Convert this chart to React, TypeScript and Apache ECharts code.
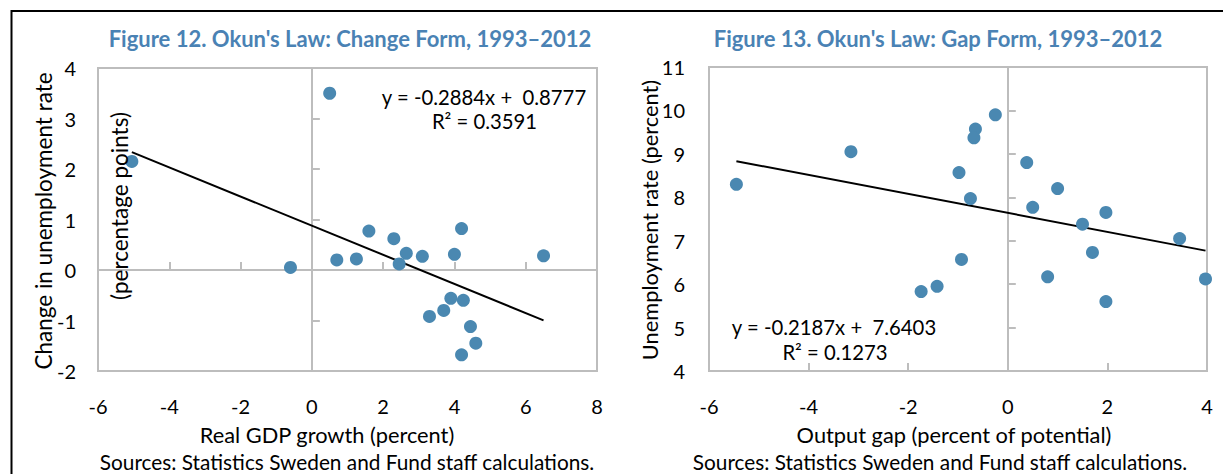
import React, { useEffect, useRef } from "react";
import * as echarts from "echarts";

// Figure 12: change form
const gdpGrowth = [0.5, -5.05, 1.6, 2.3, 4.2, -0.6, 0.7, 1.25, 2.45, 2.65, 3.1, 4.0, 6.5, 3.9, 4.25, 3.3, 3.7, 4.45, 4.6, 4.2];
const unempChange = [3.5, 2.15, 0.77, 0.62, 0.82, 0.05, 0.2, 0.22, 0.12, 0.33, 0.27, 0.31, 0.28, -0.56, -0.6, -0.92, -0.8, -1.12, -1.45, -1.68];
const trend12 = { slope: -0.2884, intercept: 0.8777, r2: "0.3591" };

// Figure 13: gap form
const outputGap = [-5.45, -3.15, -0.98, -0.75, -0.65, -0.68, -0.25, 0.38, 1.0, 0.5, 1.97, 1.5, 3.45, -0.93, -1.42, -1.74, 1.7, 0.8, 1.97, 3.97];
const unempRate = [8.3, 9.05, 8.57, 7.97, 9.57, 9.37, 9.9, 8.8, 8.2, 7.77, 7.65, 7.38, 7.05, 6.57, 5.95, 5.83, 6.73, 6.17, 5.6, 6.12];
const trend13 = { slope: -0.2187, intercept: 7.6403, r2: "0.1273" };

const xTicks12 = { min: -6, max: 8, interval: 2 };
const yTicks12 = { min: -2, max: 4, interval: 1 };
const xTicks13 = { min: -6, max: 4, interval: 2 };
const yTicks13 = { min: 4, max: 11, interval: 1 };

const FONT = "Lato, 'Open Sans', sans-serif";
const DOT = "#4a88b1";
const BLUE = "#4a82b4";
const GRID_GRAY = "#bdbdbd";
const TICK_FS = 20;

function pairs(xs: number[], ys: number[]) {
  return xs.map((x, i) => [x, ys[i]]);
}
function trendLine(xs: number[], t: { slope: number; intercept: number }) {
  const lo = Math.min(...xs);
  const hi = Math.max(...xs);
  return [lo, hi].map((x) => [x, t.slope * x + t.intercept]);
}

function labelAxis(dim: "x" | "y", r: { min: number; max: number; interval: number }, grid: number, margin: number) {
  return {
    type: "value",
    gridIndex: grid,
    position: dim === "x" ? "bottom" : "left",
    min: r.min,
    max: r.max,
    interval: r.interval,
    axisLine: { show: false, onZero: false },
    axisTick: { show: false },
    splitLine: { show: false },
    axisLabel: { color: "#000", fontSize: TICK_FS, fontFamily: FONT, margin },
  };
}
function lineAxis(dim: "x" | "y", r: { min: number; max: number; interval: number }, grid: number, zeroIdx: number) {
  return {
    type: "value",
    gridIndex: grid,
    position: dim === "x" ? "bottom" : "left",
    min: r.min,
    max: r.max,
    interval: r.interval,
    axisLine: { show: true, onZero: true, onZeroAxisIndex: zeroIdx, lineStyle: { color: GRID_GRAY, width: 2 } },
    axisTick: { show: true, inside: true, length: 8, lineStyle: { color: GRID_GRAY, width: 2 } },
    splitLine: { show: false },
    axisLabel: { show: false },
  };
}

function txt(text: string, x: number, y: number, size: number, extra: any = {}) {
  return {
    type: "text",
    x,
    y,
    rotation: extra.rotation || 0,
    z: 100,
    style: {
      text,
      fill: extra.fill || "#000",
      fontSize: size,
      fontFamily: FONT,
      fontWeight: extra.bold ? "bold" : "normal",
      textAlign: "center",
      textVerticalAlign: "middle",
    },
  };
}

export default function App() {
  const ref = useRef<HTMLDivElement>(null);
  useEffect(() => {
    if (!ref.current) return;
    const chart = echarts.init(ref.current, null, { renderer: "svg" });
    const option: any = {
      animation: false,
      backgroundColor: "#fff",
      grid: [
        { left: 98, top: 68, width: 499, height: 303, show: true, borderColor: GRID_GRAY, borderWidth: 2, backgroundColor: "transparent" },
        { left: 709, top: 67, width: 498, height: 304, show: true, borderColor: GRID_GRAY, borderWidth: 2, backgroundColor: "transparent" },
      ],
      xAxis: [
        labelAxis("x", xTicks12, 0, 25),
        lineAxis("x", xTicks12, 0, 0),
        labelAxis("x", xTicks13, 1, 25),
        lineAxis("x", xTicks13, 1, 2),
      ],
      yAxis: [
        labelAxis("y", yTicks12, 0, 22),
        lineAxis("y", yTicks12, 0, 0),
        labelAxis("y", yTicks13, 1, 24),
        lineAxis("y", yTicks13, 1, 2),
      ],
      series: [
        {
          type: "line",
          xAxisIndex: 0,
          yAxisIndex: 0,
          data: trendLine(gdpGrowth, trend12),
          symbol: "none",
          lineStyle: { color: "#000", width: 2 },
          z: 3,
        },
        {
          type: "scatter",
          xAxisIndex: 0,
          yAxisIndex: 0,
          data: pairs(gdpGrowth, unempChange),
          symbolSize: 13,
          itemStyle: { color: DOT, opacity: 1 },
          z: 4,
        },
        {
          type: "line",
          xAxisIndex: 2,
          yAxisIndex: 2,
          data: trendLine(outputGap, trend13),
          symbol: "none",
          lineStyle: { color: "#000", width: 2 },
          z: 3,
        },
        {
          type: "scatter",
          xAxisIndex: 2,
          yAxisIndex: 2,
          data: pairs(outputGap, unempRate),
          symbolSize: 13,
          itemStyle: { color: DOT, opacity: 1 },
          z: 4,
        },
      ],
      graphic: [
        { type: "rect", shape: { x: 11.5, y: 11, width: 1400, height: 700 }, style: { fill: "none", stroke: "#000", lineWidth: 2 }, z: 100 },
        txt("Figure 12. Okun's Law: Change Form, 1993\u20132012", 350, 38.5, 22, { bold: true, fill: BLUE }),
        txt("Figure 13. Okun's Law: Gap Form, 1993\u20132012", 938, 38.5, 22, { bold: true, fill: BLUE }),
        txt("Change in unemployment rate", 43.5, 221, 22.5, { rotation: Math.PI / 2 }),
        txt("(percentage points)", 119, 206, 22.5, { rotation: Math.PI / 2 }),
        txt("Unemployment rate (percent)", 649, 220, 21.8, { rotation: Math.PI / 2 }),
        txt("Real GDP growth (percent)", 327, 434, 21.8),
        txt("Output gap (percent of potential)", 954, 434, 21.8),
        txt("Sources: Statistics Sweden and Fund staff calculations.", 347, 461, 20.8),
        txt("Sources: Statistics Sweden and Fund staff calculations.", 940, 461, 20.8),
        txt(`y = ${trend12.slope}x +  ${trend12.intercept}`, 484, 97, 20.3),
        txt(`R\u00b2 = ${trend12.r2}`, 484.5, 121, 20.3),
        txt(`y = ${trend13.slope}x +  ${trend13.intercept}`, 834, 327, 20.3),
        txt(`R\u00b2 = ${trend13.r2}`, 835, 352, 20.3),
      ],
    };
    chart.setOption(option);
    return () => chart.dispose();
  }, []);
  return (
    <div
      ref={ref}
      style={{ position: "fixed", left: 0, top: 0, width: 1223, height: 474, background: "#fff" }}
    />
  );
}
